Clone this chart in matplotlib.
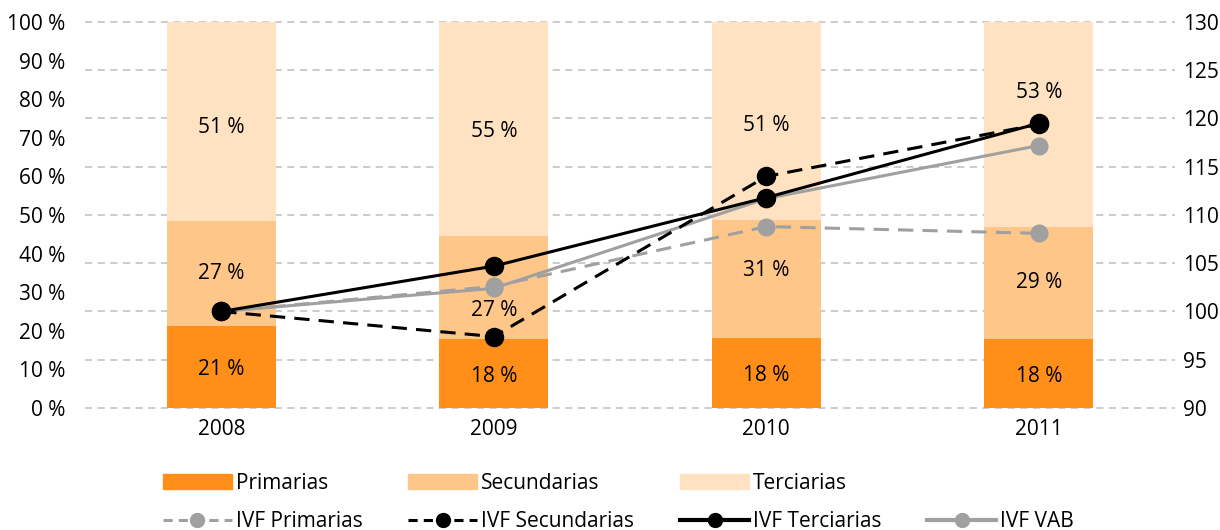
import numpy as np
import matplotlib
matplotlib.use('Agg')
from matplotlib import pyplot as plt
from matplotlib.lines import Line2D
from matplotlib.patches import Patch

plt.rcParams['font.family'] = ['Open Sans', 'DejaVu Sans']
plt.rcParams['font.size'] = 15

years = ['2008', '2009', '2010', '2011']

# shares of VAB (%)
primarias = [21.2, 17.9, 18.2, 17.9]
secundarias = [27.2, 26.7, 30.5, 29.0]
terciarias = [51.6, 55.4, 51.3, 53.1]
lbl_prim = ['21 %', '18 %', '18 %', '18 %']
lbl_sec = ['27 %', '27 %', '31 %', '29 %']
lbl_ter = ['51 %', '55 %', '51 %', '53 %']

# volume indices (2008 = 100)
ivf_primarias = [100, 102.6, 108.8, 108.1]
ivf_secundarias = [100, 97.4, 114.0, 119.4]
ivf_terciarias = [100, 104.7, 111.8, 119.5]
ivf_vab = [100, 102.4, 111.7, 117.2]

c_prim = '#ff8f19'
c_sec = '#ffc68a'
c_ter = '#ffe2c2'
c_gray = '#a0a0a0'

fig = plt.figure(figsize=(12.2, 5.3), dpi=100)
ax = fig.add_axes([0.0697, 0.2302, 0.8934, 0.7283])
ax2 = ax.twinx()

x = np.arange(len(years))
w = 0.4
ax.bar(x, primarias, w, color=c_prim, zorder=2)
ax.bar(x, secundarias, w, bottom=primarias, color=c_sec, zorder=2)
bot3 = np.add(primarias, secundarias)
ax.bar(x, terciarias, w, bottom=bot3, color=c_ter, zorder=2)

# label offsets (points) where the original moved labels off the lines
off_sec = [0, -17, 6, 0]
off_ter = [-4, -2, -3, 23]
for i in range(len(years)):
    ax.annotate(lbl_prim[i], (x[i], primarias[i] / 2), xytext=(0, -2),
                textcoords='offset points', ha='center', va='center', zorder=3)
    ax.annotate(lbl_sec[i], (x[i], primarias[i] + secundarias[i] / 2),
                xytext=(0, off_sec[i]), textcoords='offset points',
                ha='center', va='center', zorder=3)
    ax.annotate(lbl_ter[i], (x[i], bot3[i] + terciarias[i] / 2),
                xytext=(0, off_ter[i]), textcoords='offset points',
                ha='center', va='center', zorder=3)

ax.set_xlim(-0.5, 3.5)
ax.set_ylim(0, 100)
ax.set_yticks(np.arange(0, 101, 10))
ax.set_yticklabels([f'{v} %' for v in range(0, 101, 10)])
ax.set_xticks(x)
ax.set_xticklabels(years)
ax.tick_params(length=0)
ax.tick_params(axis='y', pad=14)
ax.tick_params(axis='x', pad=8)

ax2.set_ylim(90, 130)
ax2.set_yticks(np.arange(90, 131, 5))
ax2.tick_params(length=0, pad=6)

# grid follows the right axis ticks, drawn behind the bars
for t in ax2.get_yticks():
    ax.axhline((t - 90) / 40 * 100, color='#c8c8c8', linestyle=(0, (4, 3)),
               linewidth=1.3, zorder=0, clip_on=False)

ax2.plot(x, ivf_primarias, color=c_gray, linestyle=(0, (5, 3)), linewidth=2.2,
         marker='o', markersize=12, zorder=3)
ax2.plot(x, ivf_vab, color=c_gray, linestyle='-', linewidth=2.2,
         marker='o', markersize=12, zorder=3)
ax2.plot(x, ivf_secundarias, color='black', linestyle=(0, (5, 3)), linewidth=2.2,
         marker='o', markersize=13, zorder=4)
ax2.plot(x, ivf_terciarias, color='black', linestyle='-', linewidth=2.2,
         marker='o', markersize=13, zorder=4)

for a in (ax, ax2):
    for s in a.spines.values():
        s.set_visible(False)

handles = [
    Patch(color=c_prim), Line2D([], [], color=c_gray, ls=(0, (3, 2)), lw=2.2, marker='o', ms=10),
    Patch(color=c_sec), Line2D([], [], color='black', ls=(0, (3, 2)), lw=2.2, marker='o', ms=10),
    Patch(color=c_ter), Line2D([], [], color='black', ls='-', lw=3, marker='o', ms=10),
    Patch(alpha=0), Line2D([], [], color=c_gray, ls='-', lw=3, marker='o', ms=10),
]
labels = ['Primarias', 'IVF Primarias', 'Secundarias', 'IVF Secundarias',
          'Terciarias', 'IVF Terciarias', '', 'IVF VAB']
fig.legend(handles, labels, ncol=4, loc='upper left', bbox_to_anchor=(0.125, 0.128),
           frameon=False, handlelength=3.3, handletextpad=0.2, columnspacing=2.2,
           labelspacing=0.85, borderpad=0)

fig.savefig('out.png', dpi=100)
